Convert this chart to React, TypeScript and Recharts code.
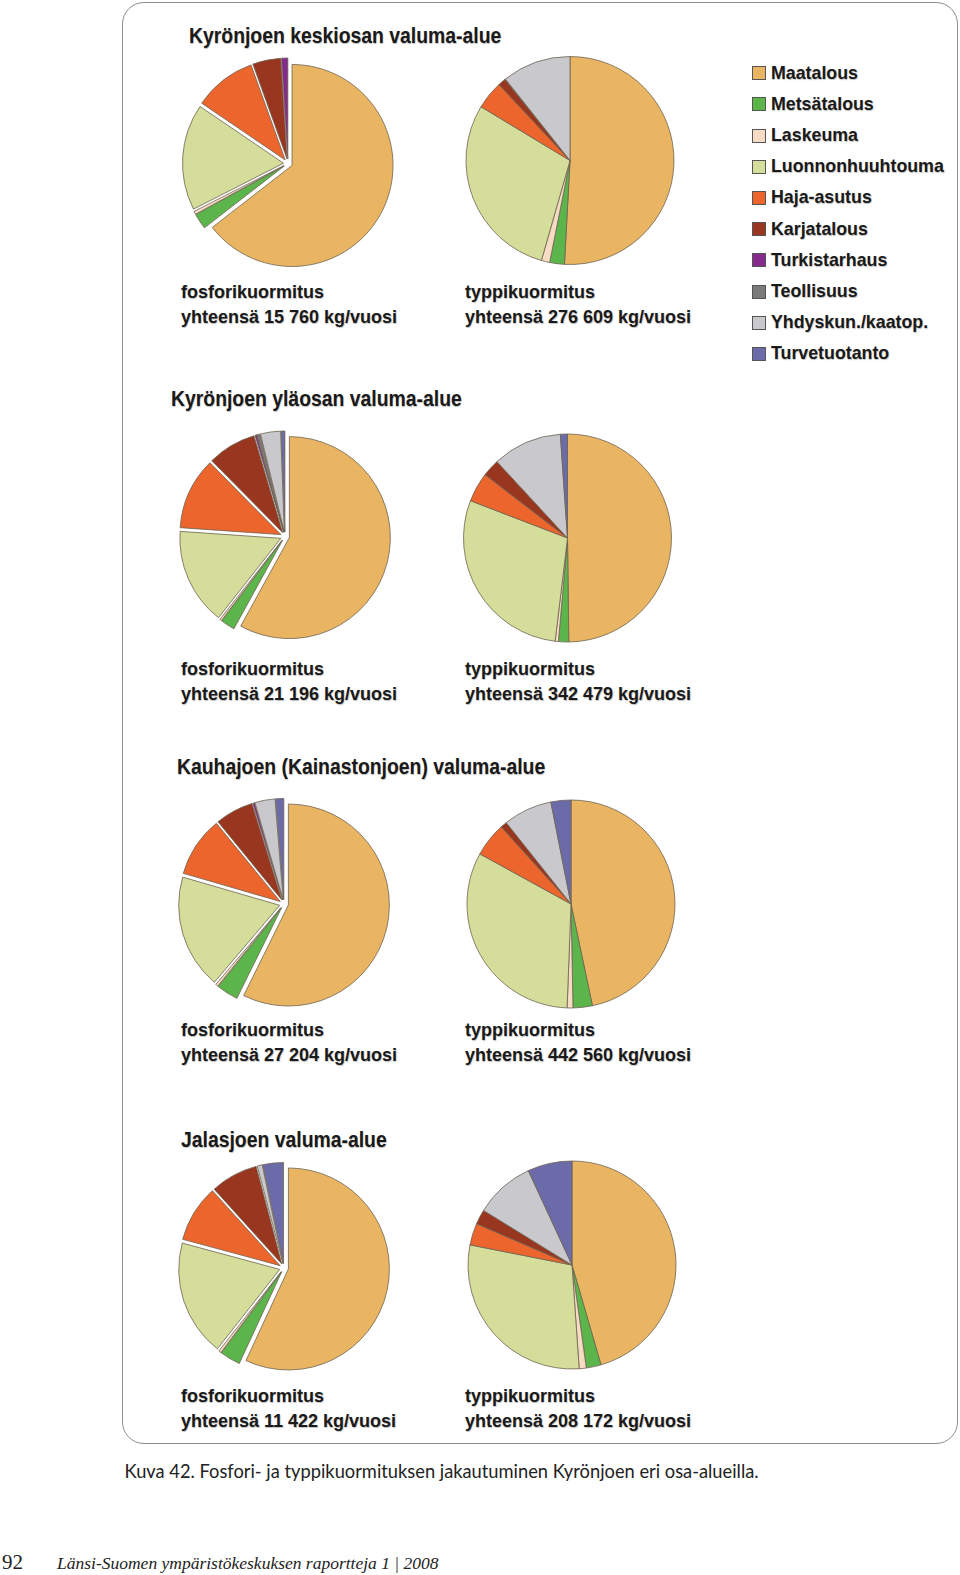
import React from 'react';
import { PieChart, Pie, Cell, Sector, Legend } from 'recharts';

// ── categories & colours ──────────────────────────────────────────────────────
const CATEGORIES = [
  'Maatalous',
  'Metsätalous',
  'Laskeuma',
  'Luonnonhuuhtouma',
  'Haja-asutus',
  'Karjatalous',
  'Turkistarhaus',
  'Teollisuus',
  'Yhdyskun./kaatop.',
  'Turvetuotanto',
];

const COLORS = [
  '#e9b563', '#5cb54a', '#f6dcc2', '#d5dd9b', '#ec652d',
  '#98361f', '#852b8c', '#7b7b7b', '#c9c9cd', '#6b6ba9',
];

// ── areas & totals ────────────────────────────────────────────────────────────
const AREAS = [
  'Kyrönjoen keskiosan valuma-alue',
  'Kyrönjoen yläosan valuma-alue',
  'Kauhajoen (Kainastonjoen) valuma-alue',
  'Jalasjoen valuma-alue',
];
const PHOS_TOTALS = ['15 760', '21 196', '27 204', '11 422'];
const NITRO_TOTALS = ['276 609', '342 479', '442 560', '208 172'];

// ── shares (%) in CATEGORIES order ────────────────────────────────────────────
const KESKI_P = [64.5, 2.5, 0.5, 17, 10, 4.5, 1, 0, 0, 0];
const KESKI_N = [51, 2.3, 1.3, 29.3, 4.4, 1.2, 0, 0.1, 10.7, 0];
const YLA_P = [58, 2.3, 0.3, 15.5, 11.5, 7.8, 0.3, 0.5, 3.2, 0.6];
const YLA_N = [49.9, 1.6, 0.5, 29, 4.6, 2.7, 0, 0, 10.8, 1.1];
const KAUHA_P = [57.3, 3.5, 0.4, 18.3, 9.6, 6.1, 0.3, 0, 3.2, 1.3];
const KAUHA_N = [46.7, 3, 0.9, 32.4, 5.3, 1, 0, 0, 7.6, 3.1];
const JALAS_P = [56.9, 3.3, 0.4, 18.6, 9.1, 7.6, 0, 0, 0.8, 3.3];
const JALAS_N = [45.5, 2.3, 1.1, 29.2, 3.4, 2.3, 0, 0, 9.3, 6.9];

const PHOS_SHARES = [KESKI_P, YLA_P, KAUHA_P, JALAS_P];
const NITRO_SHARES = [KESKI_N, YLA_N, KAUHA_N, JALAS_N];

// ── layout ────────────────────────────────────────────────────────────────────
const W = 960;
const H = 1575;
const PHOS_CX = [288, 285, 284, 284];
const PHOS_CY = [163.5, 536.5, 904, 1268];
const NITRO_CX = [570, 567.5, 571, 572];
const NITRO_CY = [160.5, 538, 904, 1265];
const PHOS_R = 101;
const NITRO_R = 104;
const EXPLODE = 4.5;

const TITLE_X = [189, 171, 177, 181];
const TITLE_BASE = [43.3, 406.8, 774.4, 1147];
const LABEL_BASE = [297.8, 675.5, 1036, 1402.7];
const LABEL_GAP = 25;

const SANS = '"Liberation Sans", Arial, sans-serif';
const SERIF = "'Liberation Serif', 'DejaVu Serif', serif";
const SHADOW = '0.6px 0.6px 1px rgba(0,0,0,0.25)';
const RAD = Math.PI / 180;

const toData = (shares: number[]) =>
  shares
    .map((value, idx) => ({ name: CATEGORIES[idx], value, idx }))
    .filter((d) => d.value > 0);

// exploded slice: push each sector out along its mid angle
const explodedSector = (props: any) => {
  const { cx, cy, midAngle } = props;
  const dx = EXPLODE * Math.cos(-midAngle * RAD);
  const dy = EXPLODE * Math.sin(-midAngle * RAD);
  return <Sector {...props} cx={cx + dx} cy={cy + dy} />;
};

// text placed by its baseline
const Txt: React.FC<{
  x: number; base: number; size: number; family?: string; weight?: any;
  italic?: boolean; scaleX?: number; color?: string; shadow?: boolean; children: React.ReactNode;
}> = ({ x, base, size, family = SANS, weight = 'bold', italic, scaleX, color = '#1a1a1a', shadow, children }) => (
  <div
    style={{
      position: 'absolute',
      left: x,
      top: base - size * 0.85,
      fontFamily: family,
      fontSize: size,
      fontWeight: weight,
      fontStyle: italic ? 'italic' : 'normal',
      lineHeight: `${size}px`,
      whiteSpace: 'nowrap',
      color,
      textShadow: shadow ? SHADOW : undefined,
      transform: scaleX ? `scaleX(${scaleX})` : undefined,
      transformOrigin: 'left top',
    }}
  >
    {children}
  </div>
);

const LegendBox = () => (
  <div style={{ fontFamily: SANS, fontWeight: 'bold', fontSize: 17.8, color: '#1a1a1a', textShadow: SHADOW }}>
    {CATEGORIES.map((c, i) => (
      <div key={c} style={{ display: 'flex', alignItems: 'center', height: 31.2, lineHeight: '31.2px', whiteSpace: 'nowrap' }}>
        <span
          style={{
            display: 'inline-block',
            width: 12,
            height: 12,
            background: COLORS[i],
            border: '1px solid #555',
            marginRight: 5,
          }}
        />
        {c}
      </div>
    ))}
  </div>
);

export default function App() {
  return (
    <div style={{ position: 'absolute', left: 0, top: 0, width: W, height: H, background: '#fff' }}>
      {/* rounded frame */}
      <div
        style={{
          position: 'absolute',
          left: 122,
          top: 2,
          width: 834,
          height: 1440,
          border: '1.5px solid #8c8c8c',
          borderRadius: 22,
        }}
      />

      <PieChart
        width={W}
        height={H}
        margin={{ top: 0, right: 0, bottom: 0, left: 0 }}
        style={{ position: 'absolute', left: 0, top: 0 }}
      >
        {AREAS.map((area, r) => (
          <Pie
            key={`p-${area}`}
            data={toData(PHOS_SHARES[r])}
            dataKey="value"
            nameKey="name"
            cx={PHOS_CX[r]}
            cy={PHOS_CY[r]}
            outerRadius={PHOS_R}
            startAngle={90}
            endAngle={-270}
            stroke="#6f6352"
            strokeWidth={0.8}
            shape={explodedSector}
            legendType="none"
            isAnimationActive={false}
          >
            {toData(PHOS_SHARES[r]).map((d) => (
              <Cell key={d.name} fill={COLORS[d.idx]} />
            ))}
          </Pie>
        ))}
        {AREAS.map((area, r) => (
          <Pie
            key={`n-${area}`}
            data={toData(NITRO_SHARES[r])}
            dataKey="value"
            nameKey="name"
            cx={NITRO_CX[r]}
            cy={NITRO_CY[r]}
            outerRadius={NITRO_R}
            startAngle={90}
            endAngle={-270}
            stroke="#6f6352"
            strokeWidth={0.8}
            legendType="none"
            isAnimationActive={false}
          >
            {toData(NITRO_SHARES[r]).map((d) => (
              <Cell key={d.name} fill={COLORS[d.idx]} />
            ))}
          </Pie>
        ))}
        <Legend
          layout="vertical"
          align="right"
          verticalAlign="top"
          content={() => <LegendBox />}
          wrapperStyle={{ left: 752, top: 57.7, width: 208 }}
        />
      </PieChart>

      {/* area titles and totals */}
      {AREAS.map((area, r) => (
        <React.Fragment key={area}>
          <Txt x={TITLE_X[r]} base={TITLE_BASE[r]} size={22.8} scaleX={0.85} shadow>
            {area}
          </Txt>
          <Txt x={181} base={LABEL_BASE[r]} size={18} shadow>fosforikuormitus</Txt>
          <Txt x={181} base={LABEL_BASE[r] + LABEL_GAP} size={18} shadow>
            {`yhteensä ${PHOS_TOTALS[r]} kg/vuosi`}
          </Txt>
          <Txt x={465} base={LABEL_BASE[r]} size={18} shadow>typpikuormitus</Txt>
          <Txt x={465} base={LABEL_BASE[r] + LABEL_GAP} size={18} shadow>
            {`yhteensä ${NITRO_TOTALS[r]} kg/vuosi`}
          </Txt>
        </React.Fragment>
      ))}

      {/* caption and page footer */}
      <Txt x={124.5} base={1478} size={18.3} family="Lato, 'Open Sans', sans-serif" weight="normal" color="#222">
        Kuva 42. Fosfori- ja typpikuormituksen jakautuminen Kyrönjoen eri osa-alueilla.
      </Txt>
      <Txt x={2} base={1570} size={21} family={SERIF} weight="normal" color="#222">
        92
      </Txt>
      <Txt x={57} base={1570} size={17.5} family={SERIF} weight="normal" italic color="#222">
        {'Länsi-Suomen ympäristökeskuksen raportteja  1 | 2008'}
      </Txt>
    </div>
  );
}
